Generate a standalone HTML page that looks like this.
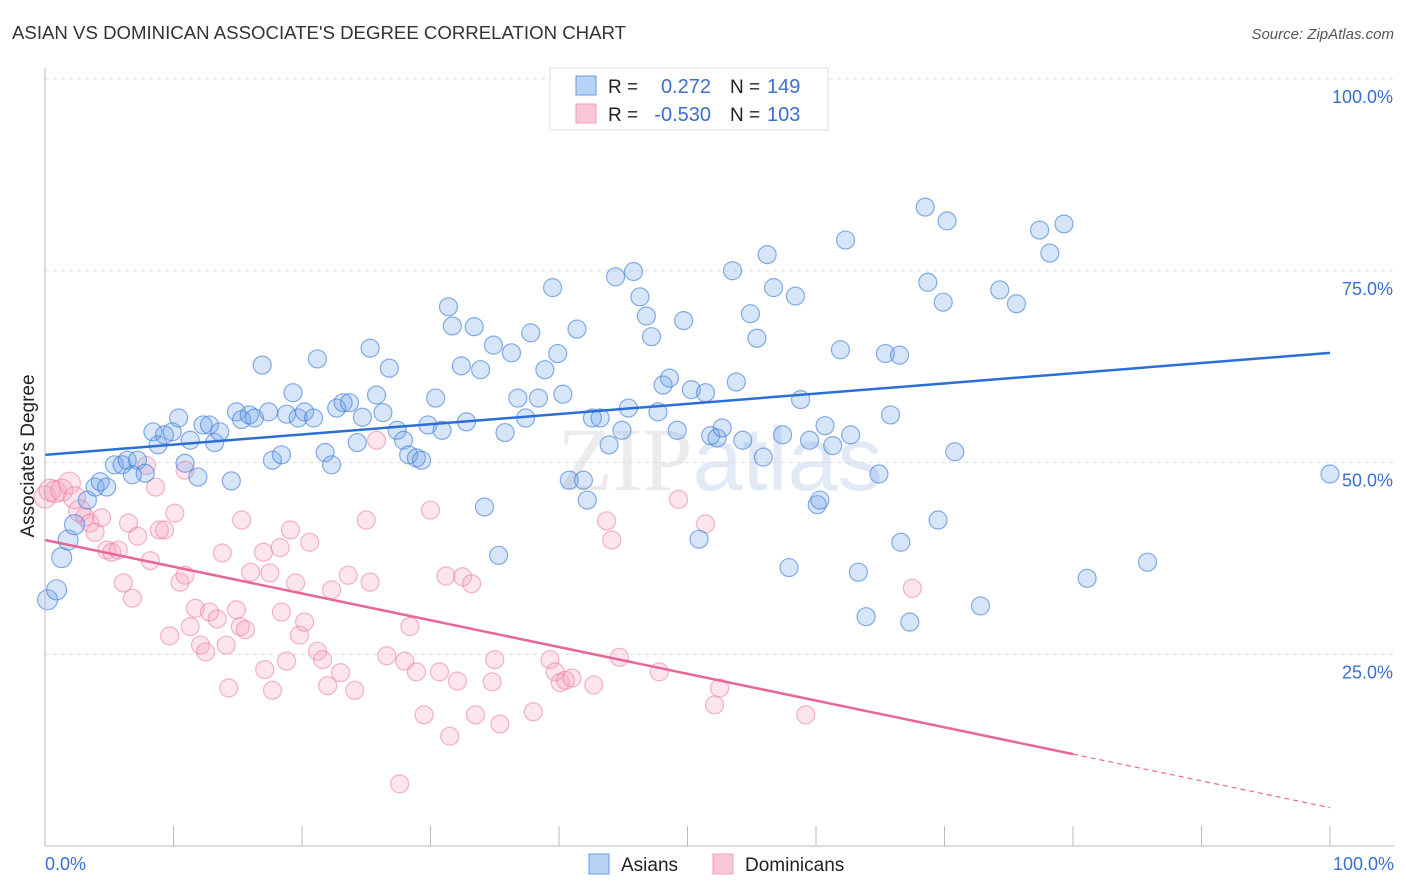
<!DOCTYPE html>
<html><head><meta charset="utf-8"><style>
body{margin:0;background:#fff;font-family:"Liberation Sans",sans-serif}
#c{position:absolute;left:0;top:0}
</style></head><body>
<svg id="c" width="1406" height="892" xmlns="http://www.w3.org/2000/svg">
<text x="12" y="39" font-size="18" fill="#333" textLength="614" lengthAdjust="spacingAndGlyphs">ASIAN VS DOMINICAN ASSOCIATE'S DEGREE CORRELATION CHART</text>
<text x="1394" y="39" font-size="15" fill="#555" text-anchor="end" font-style="italic">Source: ZipAtlas.com</text>
<text x="720" y="490" font-size="90" fill="#ebebee" text-anchor="middle" font-family="Liberation Serif">ZIP<tspan fill="#e0e9f5" font-family="Liberation Sans">atlas</tspan></text>
<g id="grid"></g>
<g id="marks"></g>
<g id="lines"></g>
<line x1="45" y1="68" x2="45" y2="846" stroke="#bbb"/>
<line x1="45" y1="846" x2="1394" y2="846" stroke="#bbb"/>
<text x="34" y="456" font-size="19" fill="#222" text-anchor="middle" transform="rotate(-90 34 456)">Associate's Degree</text>
<text x="45" y="870" font-size="18" fill="#3a6fd0">0.0%</text>
<text x="1394" y="870" font-size="18" fill="#3a6fd0" text-anchor="end">100.0%</text>
<g>
<rect x="550" y="68" width="278" height="62" fill="#fff" stroke="#ddd"/>
<rect x="576" y="76" width="20" height="19" fill="#b8d3f5" stroke="#6a9be0"/>
<rect x="576" y="104" width="20" height="19" fill="#f9c6d5" stroke="#f0a0bb"/>
<text x="608" y="93" font-size="19" fill="#222">R = </text>
<text x="711" y="93" font-size="20" fill="#3a6fd0" text-anchor="end">0.272</text>
<text x="730" y="93" font-size="19" fill="#222">N = </text><text x="767" y="93" font-size="20" fill="#3a6fd0">149</text>
<text x="608" y="121" font-size="19" fill="#222">R = </text>
<text x="711" y="121" font-size="20" fill="#3a6fd0" text-anchor="end">-0.530</text>
<text x="730" y="121" font-size="19" fill="#222">N = </text><text x="767" y="121" font-size="20" fill="#3a6fd0">103</text>
</g>
<g>
<rect x="589" y="854" width="20" height="20" fill="#b8d3f5" stroke="#6a9be0"/>
<text x="621" y="871" font-size="19" fill="#222">Asians</text>
<rect x="713" y="854" width="20" height="20" fill="#f9c6d5" stroke="#f0a0bb"/>
<text x="745" y="871" font-size="19" fill="#222">Dominicans</text>
</g>
</svg>
<script>
const yTicks=[25,50,75,100];
const yTickLabels=["25.0%","50.0%","75.0%","100.0%"];
const xTicks=[0,10,20,30,40,50,60,70,80,90,100];
const asianX=[0.2,0.9,1.3,1.8,2.3,3.3,3.9,4.3,4.8,5.4,6.0,6.4,7.2,6.8,7.8,8.4,8.8,9.3,9.9,10.4,10.9,11.3,11.9,12.3,12.8,13.2,13.6,14.5,14.9,15.3,15.9,16.3,16.9,17.4,17.7,18.4,18.8,19.3,19.7,20.2,20.9,21.2,21.8,22.3,22.7,23.2,23.7,24.3,24.7,25.3,25.8,26.3,26.8,27.4,27.9,28.3,28.9,29.3,29.8,30.4,30.9,31.4,31.7,32.4,32.8,33.4,33.9,34.2,34.9,35.3,35.8,36.3,36.8,37.4,37.8,38.4,38.9,39.5,39.9,40.3,40.8,41.4,41.9,42.2,42.6,43.2,43.9,44.4,44.9,45.4,45.8,46.3,46.8,47.2,47.7,48.1,48.6,49.2,49.7,50.3,50.9,51.4,51.8,52.3,52.7,53.5,53.8,54.3,54.9,55.4,55.9,56.2,56.7,57.4,57.9,58.4,58.8,59.5,60.1,60.3,60.7,61.3,61.9,62.3,62.7,63.3,63.9,64.9,65.4,65.8,66.5,66.6,67.3,68.5,68.7,69.5,69.9,70.2,70.8,72.8,74.3,75.6,77.4,78.2,79.3,81.1,85.8,100];
const asianY=[32.1,33.4,37.6,39.9,41.9,45.1,46.8,47.5,46.8,49.7,49.7,50.3,50.3,48.4,48.6,54.0,52.3,53.6,54.0,55.8,49.9,52.9,48.1,54.9,54.9,52.6,54.0,47.6,56.6,55.6,56.2,55.8,62.7,56.6,50.3,51.0,56.3,59.1,55.8,56.6,55.8,63.5,51.3,49.7,57.1,57.8,57.8,52.6,55.9,64.9,58.8,56.5,62.3,54.2,52.9,51.0,50.6,50.3,54.9,58.4,54.2,70.3,67.8,62.6,55.3,67.7,62.1,44.2,65.3,37.9,53.9,64.3,58.4,55.8,66.9,58.4,62.1,72.8,64.2,58.9,47.7,67.4,47.7,45.1,55.8,55.8,52.3,74.2,54.2,57.1,74.9,71.6,69.1,66.4,56.6,60.1,61.0,54.2,68.5,59.5,40.0,59.1,53.5,53.2,54.5,75.0,60.5,52.9,69.4,66.2,50.7,77.1,72.8,53.6,36.3,71.7,58.2,52.9,44.5,45.1,54.8,52.2,64.7,79.0,53.6,35.7,29.9,48.5,64.2,56.2,64.0,39.6,29.2,83.3,73.5,42.5,70.9,81.5,51.4,31.3,72.5,70.7,80.3,77.3,81.1,34.9,37.0,48.5];
const domX=[0,0.4,0.8,1.3,1.9,2.3,2.7,3.1,3.5,3.9,4.4,4.8,5.2,5.7,6.1,6.5,6.8,7.2,7.9,8.2,8.6,8.9,9.3,9.7,10.1,10.5,10.9,10.9,11.3,11.7,12.1,12.5,12.8,13.4,13.8,14.1,14.3,14.9,15.2,15.3,15.6,16.0,17.0,17.1,17.5,17.7,18.3,18.4,18.8,19.1,19.5,19.8,20.2,20.6,21.2,21.6,22.0,22.3,23.0,23.6,24.1,25.0,25.3,25.8,26.6,27.6,28.0,28.4,28.9,29.5,30.0,30.7,31.2,31.5,32.1,32.5,33.2,33.5,34.8,35.0,35.4,38.0,39.3,39.7,40.1,40.5,41.0,42.7,43.7,44.1,44.7,47.8,49.3,51.4,52.1,52.5,59.2,67.5];
const domY=[45.5,46.4,46.2,46.4,47.3,45.4,43.7,42.9,42.1,40.9,42.8,38.6,38.3,38.6,34.3,42.1,32.3,40.4,49.6,37.2,46.8,41.2,41.2,27.4,43.4,34.4,35.3,49.0,28.6,31.0,26.2,25.3,30.5,29.6,38.2,26.2,20.6,30.8,28.6,42.5,28.2,35.7,38.3,23.0,35.6,20.3,38.9,30.5,24.1,41.2,34.3,27.5,29.2,39.6,25.4,24.3,20.9,33.4,22.6,35.3,20.3,42.5,34.4,52.9,24.8,8.1,24.1,28.6,22.7,17.1,43.8,22.7,35.2,14.3,21.5,35.1,34.2,17.1,21.4,24.3,15.9,17.5,24.3,22.7,21.3,21.6,21.9,21.0,42.4,39.9,24.6,22.7,45.2,42.0,18.4,20.6,17.1,33.6];
const asianTrend=[51.0,64.3];
const domTrend=[39.9,5.0];
const X0=45,X1=1330,Y0=846,Y100=79;
const sx=v=>X0+(X1-X0)*v/100, sy=v=>Y0-(Y0-Y100)*v/100;
const NS="http://www.w3.org/2000/svg";
function mk(t,a,p){const e=document.createElementNS(NS,t);for(const k in a)e.setAttribute(k,a[k]);p.appendChild(e);return e;}
const grid=document.getElementById('grid'),marks=document.getElementById('marks'),lines=document.getElementById('lines');
yTicks.forEach((t,i)=>{
 const l=mk('line',{x1:45,x2:1394,y1:sy(t),y2:sy(t),stroke:'#ddd','stroke-dasharray':'4,4'},grid);
 
 
 const tx=mk('text',{x:1393,y:sy(t)+24,'font-size':18,fill:'#3a6fd0','text-anchor':'end'},grid);
 tx.textContent=yTickLabels[i];
 
 
});
xTicks.forEach(t=>{
 const l=mk('line',{x1:sx(t),x2:sx(t),y1:826,y2:846,stroke:'#bbb'},grid);
 
 
});
domX.forEach((x,i)=>{
 const c=mk('circle',{cx:sx(x),cy:sy(domY[i]),r:x<3?11:9,fill:'rgba(244,160,188,0.28)',stroke:'rgba(236,120,160,0.55)','stroke-width':1.2},marks);
 
 
});
asianX.forEach((x,i)=>{
 const c=mk('circle',{cx:sx(x),cy:sy(asianY[i]),r:x<3?10:9,fill:'rgba(110,160,230,0.28)',stroke:'rgba(70,130,220,0.65)','stroke-width':1.2},marks);
 
 
});
const bl=mk('line',{x1:sx(0),y1:sy(asianTrend[0]),x2:sx(100),y2:sy(asianTrend[1]),stroke:'#2a6fd6','stroke-width':2.5},lines);


const dAt=v=>domTrend[0]+(domTrend[1]-domTrend[0])*v/100;
const pl=mk('line',{x1:sx(0),y1:sy(dAt(0)),x2:sx(80),y2:sy(dAt(80)),stroke:'#e8669a','stroke-width':2.5},lines);


const pd=mk('line',{x1:sx(80),y1:sy(dAt(80)),x2:sx(100),y2:sy(dAt(100)),stroke:'#e8669a','stroke-width':1.2,'stroke-dasharray':'5,4'},lines);


</script>
</body></html>
